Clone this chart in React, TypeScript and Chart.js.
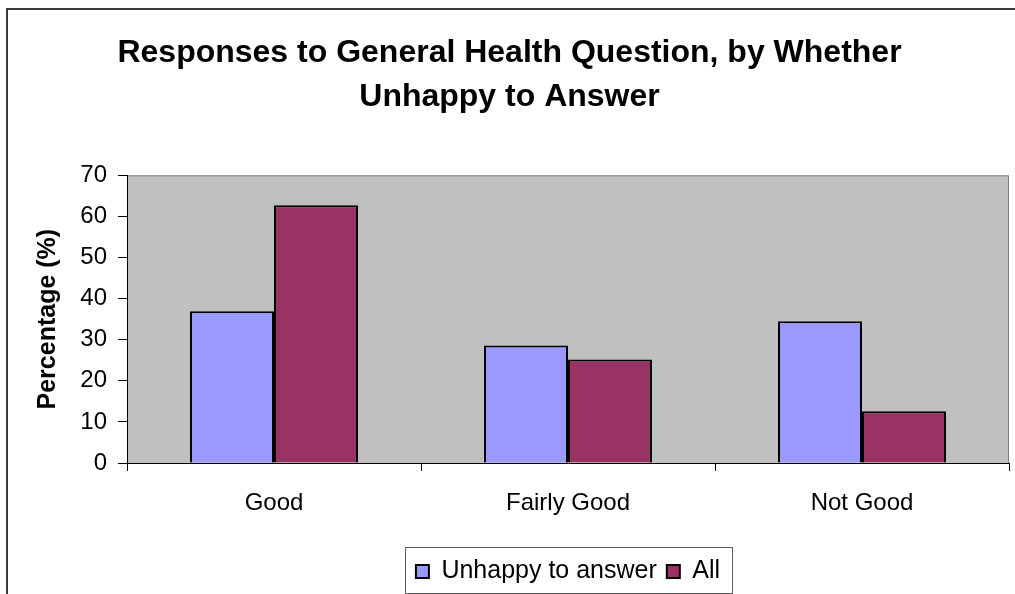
import React, { useEffect, useRef } from "react";
import { Chart, registerables } from "chart.js";

Chart.register(...registerables);

const categories = ["Good", "Fairly Good", "Not Good"];
const unhappyValues = [36.9, 28.6, 34.5];
const allValues = [62.7, 25.2, 12.6];
const seriesLabels = ["Unhappy to answer", "All"];
const titleLines = ["Responses to General Health Question, by Whether", "Unhappy to Answer"];
const yAxisTitle = "Percentage (%)";
const yMin = 0;
const yMax = 70;
const yStep = 10;

const FONT = "'Liberation Sans', Arial, Helvetica, sans-serif";

const framePlugin = {
  id: "frame",
  beforeDraw(chart: any) {
    const { ctx, chartArea: a } = chart;
    ctx.save();
    ctx.fillStyle = "#ffffff";
    ctx.fillRect(0, 0, chart.width, chart.height);
    ctx.fillStyle = "#C0C0C0";
    ctx.fillRect(a.left, a.top, a.right - a.left, a.bottom - a.top);
    ctx.strokeStyle = "#808080";
    ctx.lineWidth = 1;
    ctx.beginPath();
    ctx.moveTo(a.left, a.top + 0.5);
    ctx.lineTo(a.right - 0.5, a.top + 0.5);
    ctx.lineTo(a.right - 0.5, a.bottom);
    ctx.stroke();
    ctx.strokeStyle = "#3a3a3a";
    ctx.lineWidth = 2;
    ctx.strokeRect(7, 9, chart.width + 40, chart.height + 40);
    ctx.restore();
  },
  afterDraw(chart: any) {
    const lg = chart.legend;
    if (!lg || !lg.legendHitBoxes || !lg.legendHitBoxes.length) return;
    const hb = lg.legendHitBoxes;
    const left = Math.min(...hb.map((h: any) => h.left)) - 11;
    const right = Math.max(...hb.map((h: any) => h.left + h.width)) + 12;
    const top = hb[0].top - 12;
    const bottom = hb[0].top + 34;
    const { ctx } = chart;
    ctx.save();
    ctx.strokeStyle = "#606060";
    ctx.lineWidth = 1;
    ctx.strokeRect(Math.round(left) + 0.5, Math.round(top) + 0.5, Math.round(right - left), Math.round(bottom - top));
    ctx.restore();
  },
};

export default function App() {
  const canvasRef = useRef<HTMLCanvasElement | null>(null);

  useEffect(() => {
    if (!canvasRef.current) return;
    const chart = new Chart(canvasRef.current, {
      type: "bar",
      data: {
        labels: categories,
        datasets: [
          {
            label: seriesLabels[0],
            data: unhappyValues,
            backgroundColor: "#9999FF",
            borderColor: "#000000",
            borderWidth: 2,
          },
          {
            label: seriesLabels[1],
            data: allValues,
            backgroundColor: "#993366",
            borderColor: "#000000",
            borderWidth: 2,
          },
        ],
      },
      options: {
        responsive: false,
        animation: false,
        devicePixelRatio: 1,
        categoryPercentage: 2 / 3.5,
        barPercentage: 1,
        layout: { padding: { top: 0, left: 10, right: 6, bottom: 0 } },
        plugins: {
          title: {
            display: true,
            text: titleLines,
            color: "#000000",
            font: { family: FONT, size: 32, weight: "bold", lineHeight: 1.38 },
            padding: { top: 31, bottom: 56 },
          },
          legend: {
            display: true,
            position: "bottom",
            fullSize: false,
            labels: {
              color: "#000000",
              font: { family: FONT, size: 25 },
              boxWidth: 13,
              boxHeight: 13,
              padding: 10,
            },
          },
          tooltip: { enabled: false },
        },
        scales: {
          x: {
            grid: {
              offset: true,
              drawOnChartArea: false,
              drawTicks: true,
              tickLength: 8,
              color: "#000000",
            },
            border: { display: true, color: "#000000", width: 1 },
            ticks: {
              color: "#000000",
              font: { family: FONT, size: 24 },
              padding: 18,
              maxRotation: 0,
            },
            afterFit(scale: any) {
              scale.height = 86;
            },
          },
          y: {
            min: yMin,
            max: yMax,
            ticks: {
              stepSize: yStep,
              color: "#000000",
              font: { family: FONT, size: 24 },
              padding: 11,
            },
            grid: {
              drawOnChartArea: false,
              drawTicks: true,
              tickLength: 9,
              color: "#000000",
            },
            border: { display: true, color: "#000000", width: 1 },
            title: {
              display: true,
              text: yAxisTitle,
              color: "#000000",
              font: { family: FONT, size: 25, weight: "bold", lineHeight: 1.2 },
              padding: { top: 23, bottom: 0 },
            },
            afterFit(scale: any) {
              scale.width = 117;
            },
          },
        },
      },
      plugins: [framePlugin],
    });
    return () => chart.destroy();
  }, []);

  return (
    <div style={{ position: "fixed", left: 0, top: 0, width: 1015, height: 594, background: "#fff" }}>
      <canvas ref={canvasRef} width={1015} height={594} style={{ width: 1015, height: 594, display: "block" }} />
    </div>
  );
}
